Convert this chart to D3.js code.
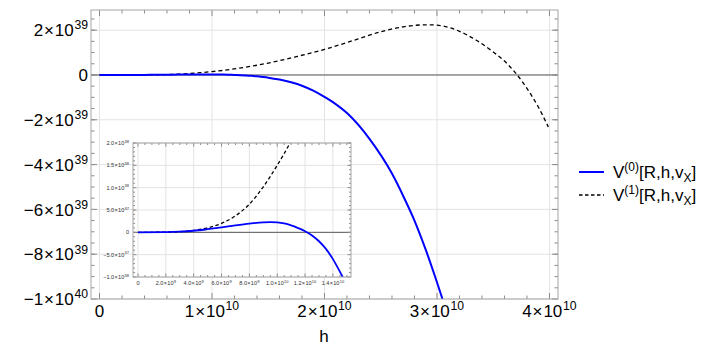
<!DOCTYPE html>
<html lang="en">
<head>
<meta charset="UTF-8">
<title>V(0) and V(1) against h</title>
<script src="https://d3js.org/d3.v7.min.js"></script>
<style>
  body { margin: 0; background: #fff; }
  svg { display: block; font-family: "Liberation Sans", Arial, sans-serif; }
</style>
</head>
<body>
<div id="chart"></div>
<script>
// V^(0): solid blue
const h0 = [0, 2e9, 3e9, 4e9, 5e9, 6e9, 7e9, 8e9, 9e9, 9.5e9, 1.0e10, 1.05e10, 1.1e10, 1.15e10,
            1.2e10, 1.25e10, 1.3e10, 1.35e10, 1.4e10, 1.45e10, 1.5e10, 1.6e10, 1.8e10, 1.9e10,
            2.0e10, 2.1e10, 2.2e10, 2.4e10, 2.6e10, 2.7e10, 2.8e10, 2.9e10, 3.0e10, 3.1e10];
const v0 = [0, 4e35, 1.5e36, 3.5e36, 7e36, 1.1e37, 1.55e37, 1.95e37, 2.25e37, 2.3e37, 2.22e37, 1.98e37, 1.55e37, 9.5e36,
            2.5e36, -7e36, -2.0e37, -3.7e37, -6.0e37, -8.8e37, -1.19e38, -2.05e38, -4.8e38, -7.0e38,
            -9.8e38, -1.3e39, -1.7e39, -2.85e39, -4.4e39, -5.4e39, -6.5e39, -7.8e39, -9.25e39, -1.08e40];

// V^(1): dashed black
const h1 = [0, 2e9, 3e9, 4e9, 5e9, 6e9, 7e9, 8e9, 9e9, 1e10, 1.1e10, 1.3e10, 1.5e10, 1.75e10,
            2.0e10, 2.3e10, 2.5e10, 2.7e10, 2.85e10, 2.95e10, 3.05e10, 3.2e10, 3.35e10, 3.5e10,
            3.6e10, 3.7e10, 3.8e10, 3.9e10, 3.99e10];
const v1 = [0, 3e35, 1.5e36, 4.5e36, 1.0e37, 2.0e37, 3.7e37, 6.3e37, 1.02e38, 1.5e38, 2.05e38, 3.5e38, 5.3e38, 8.2e38,
            1.14e39, 1.61e39, 1.93e39, 2.15e39, 2.23e39, 2.24e39, 2.19e39, 1.95e39, 1.55e39, 1.03e39,
            0.62e39, 0.08e39, -0.6e39, -1.42e39, -2.32e39];

const seriesNames = ["V^(0)[R,h,v_X]", "V^(1)[R,h,v_X]"];

// tick values and labels ("^" marks the exponent)
const mainXTicks = [0, 1e10, 2e10, 3e10, 4e10];
const mainXLabels = ["0", "1×10^10", "2×10^10", "3×10^10", "4×10^10"];
const mainYTicks = [-1e40, -8e39, -6e39, -4e39, -2e39, 0, 2e39];
const mainYLabels = ["−1×10^40", "−8×10^39", "−6×10^39", "−4×10^39", "−2×10^39", "0", "2×10^39"];
const insetXTicks = [0, 2e9, 4e9, 6e9, 8e9, 1e10, 1.2e10, 1.4e10];
const insetXLabels = ["0", "2.0×10^9", "4.0×10^9", "6.0×10^9", "8.0×10^9", "1.0×10^10", "1.2×10^10", "1.4×10^10"];
const insetYTicks = [-1e38, -5e37, 0, 5e37, 1e38, 1.5e38, 2e38];
const insetYLabels = ["−1.0×10^38", "−5.0×10^37", "0", "5.0×10^37", "1.0×10^38", "1.5×10^38", "2.0×10^38"];

const W = 706, H = 357;
const svg = d3.select("#chart").append("svg").attr("width", W).attr("height", H);

// main plot
const x = d3.scaleLinear().domain([-0.0756e10, 4.076e10]).range([91, 558]);
const y = d3.scaleLinear().domain([-1.0e40, 2.9e39]).range([299, 10]);
// inset
const xi = d3.scaleLinear().domain([-0.36e9, 15.3e9]).range([133, 351]);
const yi = d3.scaleLinear().domain([-1e38, 2e38]).range([277, 143]);

function range(a, b, step) {
    const out = [];
    for (let i = 0; a + i * step <= b + step * 1e-6; i++) out.push(a + i * step);
    return out;
}

// "2×10^39" -> text with a raised exponent and a little air round the ×
function sciText(g, str, size) {
    const parts = str.split("^");
    const t = g.append("text").attr("font-size", size);
    const base = parts[0].split("×");
    t.append("tspan").text(base[0]);
    if (base.length > 1) {
        t.append("tspan").attr("dx", size * 0.05).text("×");
        t.append("tspan").attr("dx", size * 0.05).text(base[1]);
    }
    if (parts[1]) {
        t.append("tspan").attr("font-size", size * 0.72).attr("dy", -size * 0.4).attr("dx", size * 0.04).text(parts[1]);
    }
    return t;
}

function panel(id, xs, ys, opt) {
    const g = svg.append("g");
    const [x0, x1] = xs.range(), [y0, y1] = ys.range(); // y0 bottom, y1 top
    g.append("rect").attr("x", x0).attr("y", y1).attr("width", x1 - x0).attr("height", y0 - y1).attr("fill", "#fff");

    // grid
    g.selectAll(null).data(opt.xMajor).join("line")
        .attr("x1", d => xs(d)).attr("x2", d => xs(d)).attr("y1", y1).attr("y2", y0)
        .attr("stroke", "#e3e3e3").attr("stroke-width", 1);
    g.selectAll(null).data(opt.yMajor).join("line")
        .attr("x1", x0).attr("x2", x1).attr("y1", d => ys(d)).attr("y2", d => ys(d))
        .attr("stroke", "#e3e3e3").attr("stroke-width", 1);

    // axis at zero
    g.append("line").attr("x1", x0).attr("x2", x1).attr("y1", ys(0)).attr("y2", ys(0))
        .attr("stroke", "#5a5a5a").attr("stroke-width", 1);

    // curves
    g.append("clipPath").attr("id", id).append("rect")
        .attr("x", x0).attr("y", y1).attr("width", x1 - x0).attr("height", y0 - y1);
    const line = d3.line().x(d => xs(d[0])).y(d => ys(d[1])).curve(d3.curveMonotoneX);
    const cg = g.append("g").attr("clip-path", `url(#${id})`);
    cg.append("path").datum(d3.zip(h1, v1)).attr("d", line).attr("fill", "none")
        .attr("stroke", "#000").attr("stroke-width", opt.dashW).attr("stroke-dasharray", opt.dash);
    cg.append("path").datum(d3.zip(h0, v0)).attr("d", line).attr("fill", "none")
        .attr("stroke", "#0000ff").attr("stroke-width", opt.solidW);

    // frame ticks, inward on all four sides
    const tk = g.append("g").attr("stroke", "#8c8c8c").attr("stroke-width", 1);
    const xMin = opt.xMinor.filter(d => !opt.xMajor.includes(d));
    const yMin = opt.yMinor.filter(d => !opt.yMajor.includes(d));
    [[opt.xMajor, opt.maj], [xMin, opt.min]].forEach(([vals, len]) => {
        tk.selectAll(null).data(vals).join("line")
            .attr("x1", d => xs(d)).attr("x2", d => xs(d)).attr("y1", y0).attr("y2", y0 - len);
        tk.selectAll(null).data(vals).join("line")
            .attr("x1", d => xs(d)).attr("x2", d => xs(d)).attr("y1", y1).attr("y2", y1 + len);
    });
    [[opt.yMajor, opt.maj], [yMin, opt.min]].forEach(([vals, len]) => {
        tk.selectAll(null).data(vals).join("line")
            .attr("y1", d => ys(d)).attr("y2", d => ys(d)).attr("x1", x0).attr("x2", x0 + len);
        tk.selectAll(null).data(vals).join("line")
            .attr("y1", d => ys(d)).attr("y2", d => ys(d)).attr("x1", x1).attr("x2", x1 - len);
    });
    g.append("rect").attr("x", x0).attr("y", y1).attr("width", x1 - x0).attr("height", y0 - y1)
        .attr("fill", "none").attr("stroke", "#a6a6a6").attr("stroke-width", 1);

    // tick labels
    opt.xMajor.forEach((d, i) => {
        sciText(g, opt.xLabels[i], opt.fs).attr("x", xs(d)).attr("y", y0 + opt.xOff)
            .attr("text-anchor", "middle").attr("fill", opt.labelColor);
    });
    opt.yMajor.forEach((d, i) => {
        sciText(g, opt.yLabels[i], opt.fs).attr("x", x0 - opt.yOff).attr("y", ys(d) + opt.fs * 0.36)
            .attr("text-anchor", "end").attr("fill", opt.labelColor);
    });
    return g;
}

panel("clipMain", x, y, {
    xMajor: mainXTicks, xLabels: mainXLabels, xMinor: range(0, 4e10, 0.2e10),
    yMajor: mainYTicks, yLabels: mainYLabels, yMinor: range(-1e40, 2.5e39, 0.5e39),
    maj: 6, min: 3.5, fs: 17, xOff: 18, yOff: 3, labelColor: "#000",
    dash: "4,3", dashW: 1.3, solidW: 2
});

panel("clipInset", xi, yi, {
    xMajor: insetXTicks, xLabels: insetXLabels, xMinor: range(0, 1.5e10, 0.5e9),
    yMajor: insetYTicks, yLabels: insetYLabels, yMinor: range(-1e38, 2e38, 1e37),
    maj: 3.5, min: 2, fs: 5.6, xOff: 8, yOff: 4, labelColor: "#333",
    dash: "3.5,2.5", dashW: 1.3, solidW: 1.8
});

// x axis title
svg.append("text").attr("x", 324).attr("y", 342).attr("text-anchor", "middle")
    .attr("font-size", 17).text("h");

// legend
const legendY = [172, 195];
seriesNames.forEach((name, i) => {
    const lg = svg.append("g");
    lg.append("line").attr("x1", 579).attr("x2", 604).attr("y1", legendY[i]).attr("y2", legendY[i])
        .attr("stroke", i === 0 ? "#0000ff" : "#000")
        .attr("stroke-width", i === 0 ? 2 : 1.3)
        .attr("stroke-dasharray", i === 0 ? null : "3.5,2.5");
    const m = name.match(/^(.*)\^(\(\d\))(.*)_(.)(.*)$/);
    const t = lg.append("text").attr("x", 613).attr("y", legendY[i] + 6).attr("font-size", 17);
    t.append("tspan").text(m[1]);
    t.append("tspan").attr("font-size", 12).attr("dy", -7).text(m[2]);
    t.append("tspan").attr("dy", 7).text(m[3]);
    t.append("tspan").attr("font-size", 12).attr("dy", 3.5).text(m[4]);
    t.append("tspan").attr("dy", -3.5).text(m[5]);
});
</script>
</body>
</html>
